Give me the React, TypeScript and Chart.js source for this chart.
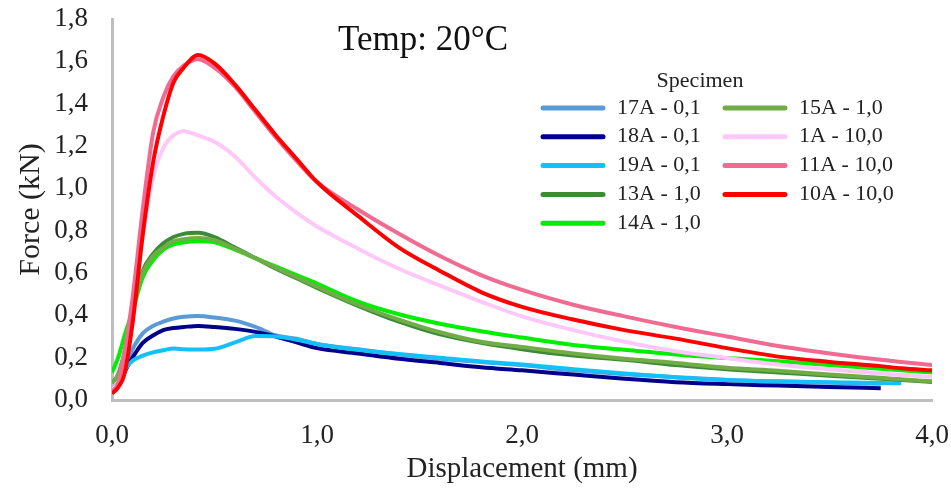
import React, { useEffect, useRef } from 'react';
import { Chart, registerables } from 'chart.js';

Chart.register(...registerables);

// Displacement grid (mm)
const displacement = [0, 0.03, 0.06, 0.1, 0.15, 0.2, 0.25, 0.3, 0.35, 0.42, 0.5, 0.6, 0.7, 0.8, 0.9, 1.0, 1.2, 1.4, 1.6, 1.8, 2.0, 2.25, 2.5, 2.75, 3.0, 3.25, 3.5, 3.75, 3.85, 4.0];

// Force (kN) per specimen
const f17A = [0.05, 0.08, 0.15, 0.24, 0.315, 0.35, 0.37, 0.385, 0.393, 0.397, 0.39, 0.375, 0.345, 0.305, 0.29, 0.265, 0.24, 0.215, 0.195, 0.18, 0.165, 0.14, 0.122, 0.108, 0.095, 0.087, 0.082, 0.077, null, null];
const f18A = [0.04, 0.07, 0.13, 0.2, 0.27, 0.305, 0.33, 0.34, 0.345, 0.35, 0.345, 0.336, 0.322, 0.3, 0.272, 0.245, 0.22, 0.195, 0.175, 0.155, 0.14, 0.12, 0.1, 0.084, 0.075, 0.068, 0.061, 0.056, null, null];
const f19A = [0.04, 0.08, 0.14, 0.185, 0.21, 0.225, 0.235, 0.243, 0.24, 0.238, 0.242, 0.272, 0.302, 0.3, 0.285, 0.265, 0.237, 0.217, 0.2, 0.182, 0.168, 0.145, 0.125, 0.108, 0.095, 0.088, 0.084, 0.08, 0.079, null];
const f13A = [0.08, 0.12, 0.22, 0.42, 0.61, 0.69, 0.74, 0.77, 0.785, 0.79, 0.77, 0.72, 0.67, 0.62, 0.575, 0.53, 0.445, 0.37, 0.31, 0.27, 0.24, 0.21, 0.19, 0.165, 0.145, 0.13, 0.115, 0.1, 0.095, 0.085];
const f14A = [0.13, 0.2, 0.3, 0.42, 0.58, 0.66, 0.71, 0.735, 0.745, 0.75, 0.745, 0.71, 0.67, 0.63, 0.59, 0.55, 0.465, 0.405, 0.36, 0.325, 0.295, 0.26, 0.237, 0.215, 0.198, 0.183, 0.165, 0.148, 0.14, 0.13];
const f15A = [0.08, 0.12, 0.22, 0.42, 0.6, 0.68, 0.72, 0.75, 0.76, 0.765, 0.755, 0.715, 0.67, 0.625, 0.58, 0.535, 0.45, 0.38, 0.32, 0.275, 0.25, 0.22, 0.195, 0.175, 0.152, 0.138, 0.12, 0.105, 0.098, 0.088];
const f1A = [0.05, 0.08, 0.18, 0.42, 0.78, 1.05, 1.19, 1.25, 1.27, 1.25, 1.22, 1.15, 1.05, 0.96, 0.885, 0.82, 0.715, 0.62, 0.54, 0.465, 0.395, 0.33, 0.275, 0.23, 0.198, 0.168, 0.145, 0.125, 0.118, 0.11];
const f11A = [0.04, 0.08, 0.22, 0.48, 0.9, 1.26, 1.43, 1.53, 1.58, 1.61, 1.57, 1.48, 1.36, 1.24, 1.13, 1.03, 0.9, 0.785, 0.68, 0.59, 0.52, 0.45, 0.395, 0.345, 0.3, 0.255, 0.22, 0.19, 0.18, 0.165];
const f10A = [0.03, 0.06, 0.12, 0.36, 0.78, 1.12, 1.34, 1.5, 1.57, 1.63, 1.59, 1.49, 1.37, 1.25, 1.14, 1.03, 0.87, 0.72, 0.61, 0.51, 0.44, 0.38, 0.33, 0.29, 0.245, 0.205, 0.18, 0.16, 0.15, 0.14];

const specimens = ['17A - 0,1', '18A - 0,1', '19A - 0,1', '13A - 1,0', '14A - 1,0', '15A - 1,0', '1A - 10,0', '11A - 10,0', '10A - 10,0'];
const forces = [f17A, f18A, f19A, f13A, f14A, f15A, f1A, f11A, f10A];
const colors = ['#5b9bd5', '#00008b', '#14c0f8', '#3d8b37', '#00ee00', '#70ad47', '#ffc8f8', '#ef6b91', '#ff0000'];

const yTickLabels = ['0,0', '0,2', '0,4', '0,6', '0,8', '1,0', '1,2', '1,4', '1,6', '1,8'];
const xTickLabels = ['0,0', '1,0', '2,0', '3,0', '4,0'];

const chartTitle = 'Temp: 20°C';
const legendTitle = 'Specimen';
const xTitle = 'Displacement (mm)';
const yTitle = 'Force (kN)';

const SERIF = '"Liberation Serif", "Times New Roman", serif';

const overlayPlugin = {
  id: 'overlay',
  afterDraw(chart: any) {
    const { ctx, chartArea } = chart;
    ctx.save();
    // title
    ctx.fillStyle = '#111';
    ctx.font = `35px ${SERIF}`;
    ctx.textAlign = 'left';
    ctx.textBaseline = 'alphabetic';
    ctx.fillText(chartTitle, chartArea.left + 226, 50);

    // legend
    const col1 = chartArea.right - 389;
    const col2 = chartArea.right - 207;
    const rowTop = 108;
    const rowH = 28.8;
    ctx.font = `22px ${SERIF}`;
    ctx.textAlign = 'center';
    ctx.fillStyle = '#222';
    ctx.fillText(legendTitle, col1 + 157, 87);
    ctx.textAlign = 'left';
    specimens.forEach((name, i) => {
      const col = i < 5 ? col1 : col2;
      const row = i < 5 ? i : i - 5;
      const y = rowTop + row * rowH;
      ctx.strokeStyle = colors[i];
      ctx.lineWidth = 5;
      ctx.lineCap = 'round';
      ctx.beginPath();
      ctx.moveTo(col, y);
      ctx.lineTo(col + 60, y);
      ctx.stroke();
      ctx.fillStyle = '#222';
      ctx.fillText(name, col + 74, y + 5.5);
    });
    ctx.restore();
  },
};

export default function App() {
  const ref = useRef<HTMLCanvasElement | null>(null);

  useEffect(() => {
    if (!ref.current) return;
    const datasets = specimens.map((name, i) => ({
      label: name,
      data: displacement.map((x, j) => ({ x, y: forces[i][j] })),
      borderColor: colors[i],
      backgroundColor: colors[i],
      borderWidth: 4,
      pointRadius: 0,
      tension: 0.3,
      cubicInterpolationMode: 'monotone' as const,
      fill: false,
      spanGaps: false,
      order: specimens.length - i,
    }));

    const chart = new Chart(ref.current, {
      type: 'line',
      data: { datasets },
      options: {
        responsive: false,
        animation: false,
        layout: { padding: { top: 19, right: 19, left: 0, bottom: 0 } },
        plugins: {
          legend: { display: false },
          tooltip: { enabled: false },
          title: { display: false },
        },
        scales: {
          x: {
            type: 'linear',
            min: 0,
            max: 4,
            afterFit: (s: any) => { s.height = 96; s.paddingLeft = 0; s.paddingRight = 0; },
            afterBuildTicks: (s: any) => { s.ticks = xTickLabels.map((_, i) => ({ value: i })); },
            ticks: {
              callback: (_v: any, i: number) => xTickLabels[i],
              font: { family: SERIF, size: 27 },
              color: '#222',
              padding: 20,
              maxRotation: 0,
            },
            grid: { display: false, drawTicks: false },
            border: { display: true, color: '#bfbfbf', width: 3 },
            title: {
              display: true,
              text: xTitle,
              font: { family: SERIF, size: 29 },
              color: '#222',
              padding: { top: 0, bottom: 9 },
            },
          },
          y: {
            type: 'linear',
            min: 0,
            max: 1.8,
            afterFit: (s: any) => { s.width = 112; s.paddingTop = 0; s.paddingBottom = 0; },
            afterBuildTicks: (s: any) => { s.ticks = yTickLabels.map((_, i) => ({ value: Math.round(i * 2) / 10 })); },
            ticks: {
              callback: (_v: any, i: number) => yTickLabels[i],
              font: { family: SERIF, size: 27 },
              color: '#222',
              padding: 24,
            },
            grid: { display: false, drawTicks: false },
            border: { display: true, color: '#bfbfbf', width: 3 },
            title: {
              display: true,
              text: yTitle,
              font: { family: SERIF, size: 30 },
              color: '#222',
              padding: { top: 13, bottom: 0 },
            },
          },
        },
      },
      plugins: [overlayPlugin],
    });
    return () => chart.destroy();
  }, []);

  return (
    <div style={{ position: 'fixed', left: 0, top: 0, width: 951, height: 496, background: '#fff' }}>
      <canvas ref={ref} width={951} height={496} style={{ display: 'block', width: 951, height: 496 }} />
    </div>
  );
}
